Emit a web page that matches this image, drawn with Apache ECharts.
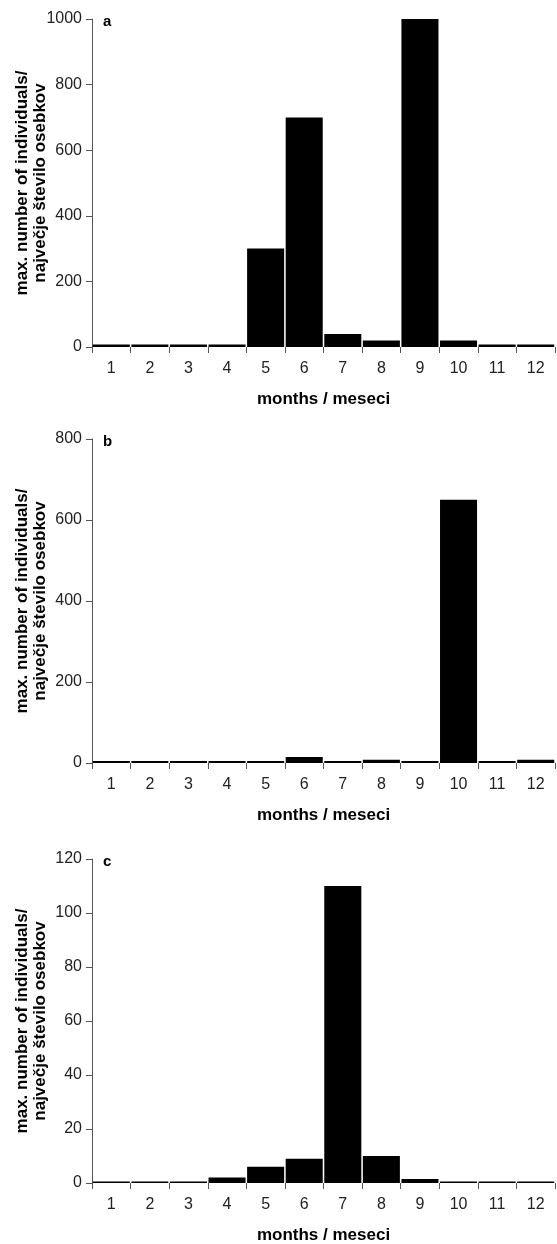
<!DOCTYPE html>
<html>
<head>
<meta charset="utf-8">
<script src="https://cdn.jsdelivr.net/npm/echarts@6/dist/echarts.min.js"></script>
<style>
  html, body { margin: 0; padding: 0; background: #fff; }
  #chart { width: 557px; height: 1244px; }
</style>
</head>
<body>
<div id="chart"></div>
<script>
// months on the x axis
const months = ["1", "2", "3", "4", "5", "6", "7", "8", "9", "10", "11", "12"];
// panel a, b, c values (max. number of individuals)
const valuesA = [8, 8, 8, 8, 300, 700, 40, 20, 1000, 20, 8, 8];
const valuesB = [5, 5, 5, 5, 5, 15, 5, 8, 5, 650, 5, 8];
const valuesC = [0.6, 0.6, 0.6, 2, 6, 9, 110, 10, 1.5, 0.6, 0.6, 0.6];
const panelLabels = ["a", "b", "c"];
const yMax = [1000, 800, 120];
const yStep = [200, 200, 20];

const fontFam = "'Liberation Sans', Arial, sans-serif";
const yName = "max. number of individuals/\nnajvečje število osebkov";
const xName = "months / meseci";

let chart = echarts.init(document.getElementById("chart"));
const allValues = [valuesA, valuesB, valuesC];
const gridTops = [19, 439, 859];
const gridBottoms = [897, 481, 61];

let grid = [], xAxis = [], yAxis = [], series = [], title = [];
for (let i = 0; i < 3; i++) {
  grid.push({
    left: 92,
    right: 2,
    top: gridTops[i],
    bottom: gridBottoms[i],
    containLabel: false,
    outerBoundsMode: "none"
  });
  xAxis.push({
    type: "category",
    gridIndex: i,
    data: months,
    name: xName,
    nameLocation: "middle",
    nameGap: 44,
    nameMoveOverlap: false,
    nameTextStyle: { fontFamily: fontFam, fontWeight: "bold", fontSize: 17, color: "#000" },
    axisLine: { show: false },
    axisTick: { show: true, length: 6, lineStyle: { color: "#555" } },
    axisLabel: { fontFamily: fontFam, fontSize: 16, color: "#222", margin: 14 }
  });
  yAxis.push({
    type: "value",
    gridIndex: i,
    min: 0,
    max: yMax[i],
    interval: yStep[i],
    name: yName,
    nameLocation: "middle",
    nameGap: 43,
    nameMoveOverlap: false,
    nameTextStyle: { fontFamily: fontFam, fontWeight: "bold", fontSize: 17, color: "#000", lineHeight: 18 },
    splitLine: { show: false },
    axisLine: { show: true, lineStyle: { color: "#555" } },
    axisTick: { show: true, length: 6, lineStyle: { color: "#555" } },
    axisLabel: {
      fontFamily: fontFam,
      fontSize: 16,
      color: "#222",
      margin: 10,
      formatter: function (v) { return String(v); }
    }
  });
  series.push({
    type: "bar",
    xAxisIndex: i,
    yAxisIndex: i,
    data: allValues[i],
    barCategoryGap: "4%",
    itemStyle: { color: "#000" },
    silent: true
  });
  title.push({
    text: panelLabels[i],
    left: 98,
    top: gridTops[i] - 10,
    textStyle: { fontFamily: fontFam, fontWeight: "bold", fontSize: 15, color: "#000" }
  });
}

const options = {
  animation: false,
  title: title,
  grid: grid,
  xAxis: xAxis,
  yAxis: yAxis,
  series: series
};
chart.setOption(options);
</script>
</body>
</html>
